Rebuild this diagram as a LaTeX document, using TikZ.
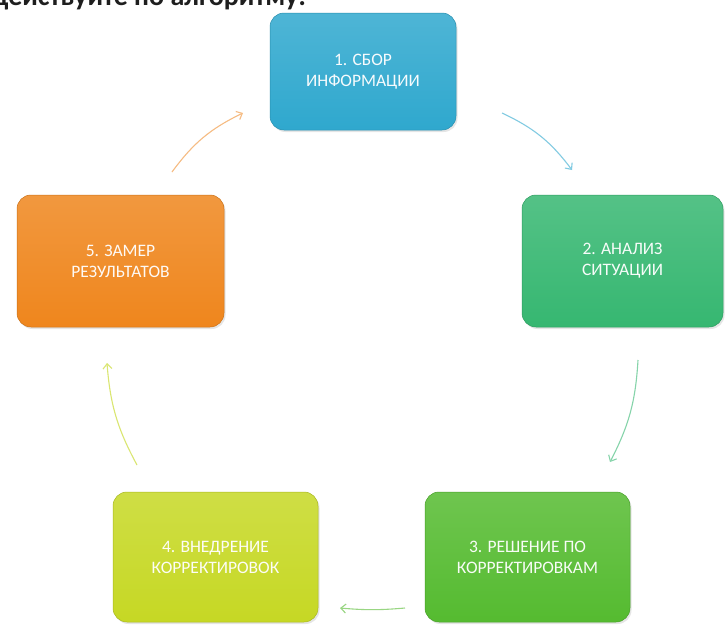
\documentclass[tikz,border=0pt]{standalone}
\usepackage{fontspec}
\setmainfont{Carlito}
\usetikzlibrary{positioning,arrows.meta,shadows,calc}
\definecolor{sborcolor}{HTML}{2FA8CE}
\definecolor{analizcolor}{HTML}{36B771}
\definecolor{reshcolor}{HTML}{55BB30}
\definecolor{vnedcolor}{HTML}{C6D824}
\definecolor{zamercolor}{HTML}{EF861D}
\definecolor{introtext}{HTML}{1E1E1E}

\begin{document}
\begin{tikzpicture}[
    x=1pt,y=-1pt,
    >={Straight Barb[length=5pt,width=9pt]},
    every node/.style={font=\fontsize{17.5}{21}\selectfont},
    stage/.style={
        rounded corners=14pt,
        minimum width=205pt,
        minimum height=130pt,
        align=center,
        text=white!96!#1,
        top color=#1!85!white,
        bottom color=#1,
        draw=#1!85!black,
        line width=0.5pt,
        drop shadow={opacity=0.2,shadow xshift=1.5pt,shadow yshift=-2pt},
    },
    cyclearrow/.style={->,line width=1.1pt,color=#1},
]

\useasboundingbox (0,0) rectangle (725,624);
\fill[white] (0,0) rectangle (725,624);

% Heading line (cut by the page)
\node[anchor=base west,inner sep=0pt,font=\fontsize{28}{32}\selectfont\bfseries,text=introtext] (intro) at (-8,5) {действуйте по алгоритму:};

% Stages
\node[stage=sborcolor,minimum width=186pt,minimum height=117pt] (sbor) at (363,71.5) {1. СБОР\\ИНФОРМАЦИИ};
\node[stage=analizcolor,minimum width=201pt,minimum height=132pt] (analiz) at (622.5,261) {2. АНАЛИЗ\\СИТУАЦИИ};
\node[stage=reshcolor] (reshenie) at (527.5,557) {3. РЕШЕНИЕ ПО\\КОРРЕКТИРОВКАМ};
\node[stage=vnedcolor] (vnedrenie) at (215.5,557) {4. ВНЕДРЕНИЕ\\КОРРЕКТИРОВОК};
\node[stage=zamercolor,minimum width=207pt,minimum height=132pt] (zamer) at (120.5,261) {5. ЗАМЕР\\РЕЗУЛЬТАТОВ};

% Arrow ends
\coordinate (zs) at (172,172);  \coordinate (ze) at (243,113);
\coordinate (ss) at (502,113);  \coordinate (se) at (572,170);
\coordinate (as) at (638,360);  \coordinate (ae) at (610,462);
\coordinate (rs) at (405,608);  \coordinate (re) at (340,608);
\coordinate (vs) at (137,465);  \coordinate (ve) at (107,363);

\draw[cyclearrow={zamercolor!55!white}] (zs) to[bend left=14] (ze);
\draw[cyclearrow={sborcolor!60!white}] (ss) to[bend left=14] (se);
\draw[cyclearrow={analizcolor!60!white}] (as) to[bend left=12] (ae);
\draw[cyclearrow={reshcolor!60!white}] (rs) to[bend left=5] (re);
\draw[cyclearrow={vnedcolor!65!white}] (vs) to[bend left=12] (ve);

\end{tikzpicture}
\end{document}
